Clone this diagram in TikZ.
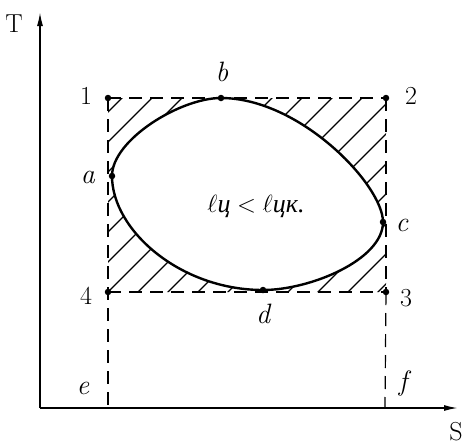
\documentclass[tikz,border=0pt]{standalone}
\usepackage{fontspec}
\newfontfamily\cyrfont{Liberation Serif}
\usetikzlibrary{arrows.meta}
\tikzset{
  axis/.style={line width=1.6pt,-{Latex[length=14pt,width=6pt]}},
  dashline/.style={line width=1.2pt,dash pattern=on 13pt off 8pt},
  cycle/.style={line width=2.4pt},
  hatch/.style={line width=1.1pt},
  dot/.style={circle,fill=black,inner sep=0pt,minimum size=6.5pt},
  lbl/.style={font=\fontsize{26}{30}\selectfont,inner sep=1pt},
  ilbl/.style={font=\fontsize{28}{32}\selectfont\itshape,inner sep=1pt}
}
\begin{document}
\begin{tikzpicture}[x=1pt,y=-1pt]
\useasboundingbox (0,0) rectangle (467,448);
% frame points
\coordinate (O) at (40,408);
\coordinate (Tend) at (40,12);
\coordinate (Send) at (458,408);
\coordinate (p1) at (108,98);
\coordinate (p2) at (386,98);
\coordinate (p3) at (386,292);
\coordinate (p4) at (108,292);
\coordinate (e) at (108,408);
\coordinate (f) at (385,408);
\coordinate (a) at (112,176);
\coordinate (b) at (221,98);
\coordinate (c) at (383,222);
\coordinate (d) at (263,290);
% hatching
\begin{scope}
  \clip (p1) -- (p4) -- (p3) -- (p2) -- cycle
        (a) .. controls (112,140) and (180,98) .. (b)
            .. controls (300,98) and (383,185) .. (c)
            .. controls (383,260) and (310,290) .. (d)
            .. controls (180,290) and (112,230) .. (a) -- cycle;
  \foreach \k in {220,250,...,670}
    \draw[hatch] (\k-300,300) -- (\k-90,90);
\end{scope}
% axes
\draw[axis] (O) -- (Tend);
\draw[axis] (O) -- (Send);
% dashed rectangle and verticals
\draw[dashline] (p1) -- (p2);
\draw[dashline] (p4) -- (p3);
\draw[dashline] (p1) -- (e);
\draw[dashline] (p2) -- (p3);
\draw[dashline] (p3) -- (f);
% cycle curve
\draw[cycle] (a) .. controls (112,140) and (180,98) .. (b)
            .. controls (300,98) and (383,185) .. (c)
            .. controls (383,260) and (310,290) .. (d)
            .. controls (180,290) and (112,230) .. (a);
% dots
\foreach \p in {p1,p2,p3,p4,a,b,c,d}
  \node[dot] (dot\p) at (\p) {};
% labels
\node[lbl] (lT) at (14,24) {T};
\node[lbl] (lS) at (456,432) {S};
\node[lbl] (l1) at (86,96) {1};
\node[lbl] (l2) at (411,96) {2};
\node[lbl] (l3) at (406,298) {3};
\node[lbl] (l4) at (86,296) {4};
\node[ilbl] (la) at (88,177) {a};
\node[ilbl] (lb) at (222,72) {b};
\node[ilbl] (lc) at (402,225) {c};
\node[ilbl] (ld) at (263,314) {d};
\node[ilbl] (le) at (83,388) {e};
\node[ilbl] (lf) at (403,383) {f};
\node[lbl] (ltxt) at (256,206) {$\ell$\cyrfont\itshape ц $<$ $\ell$цк.};
\end{tikzpicture}
\end{document}
